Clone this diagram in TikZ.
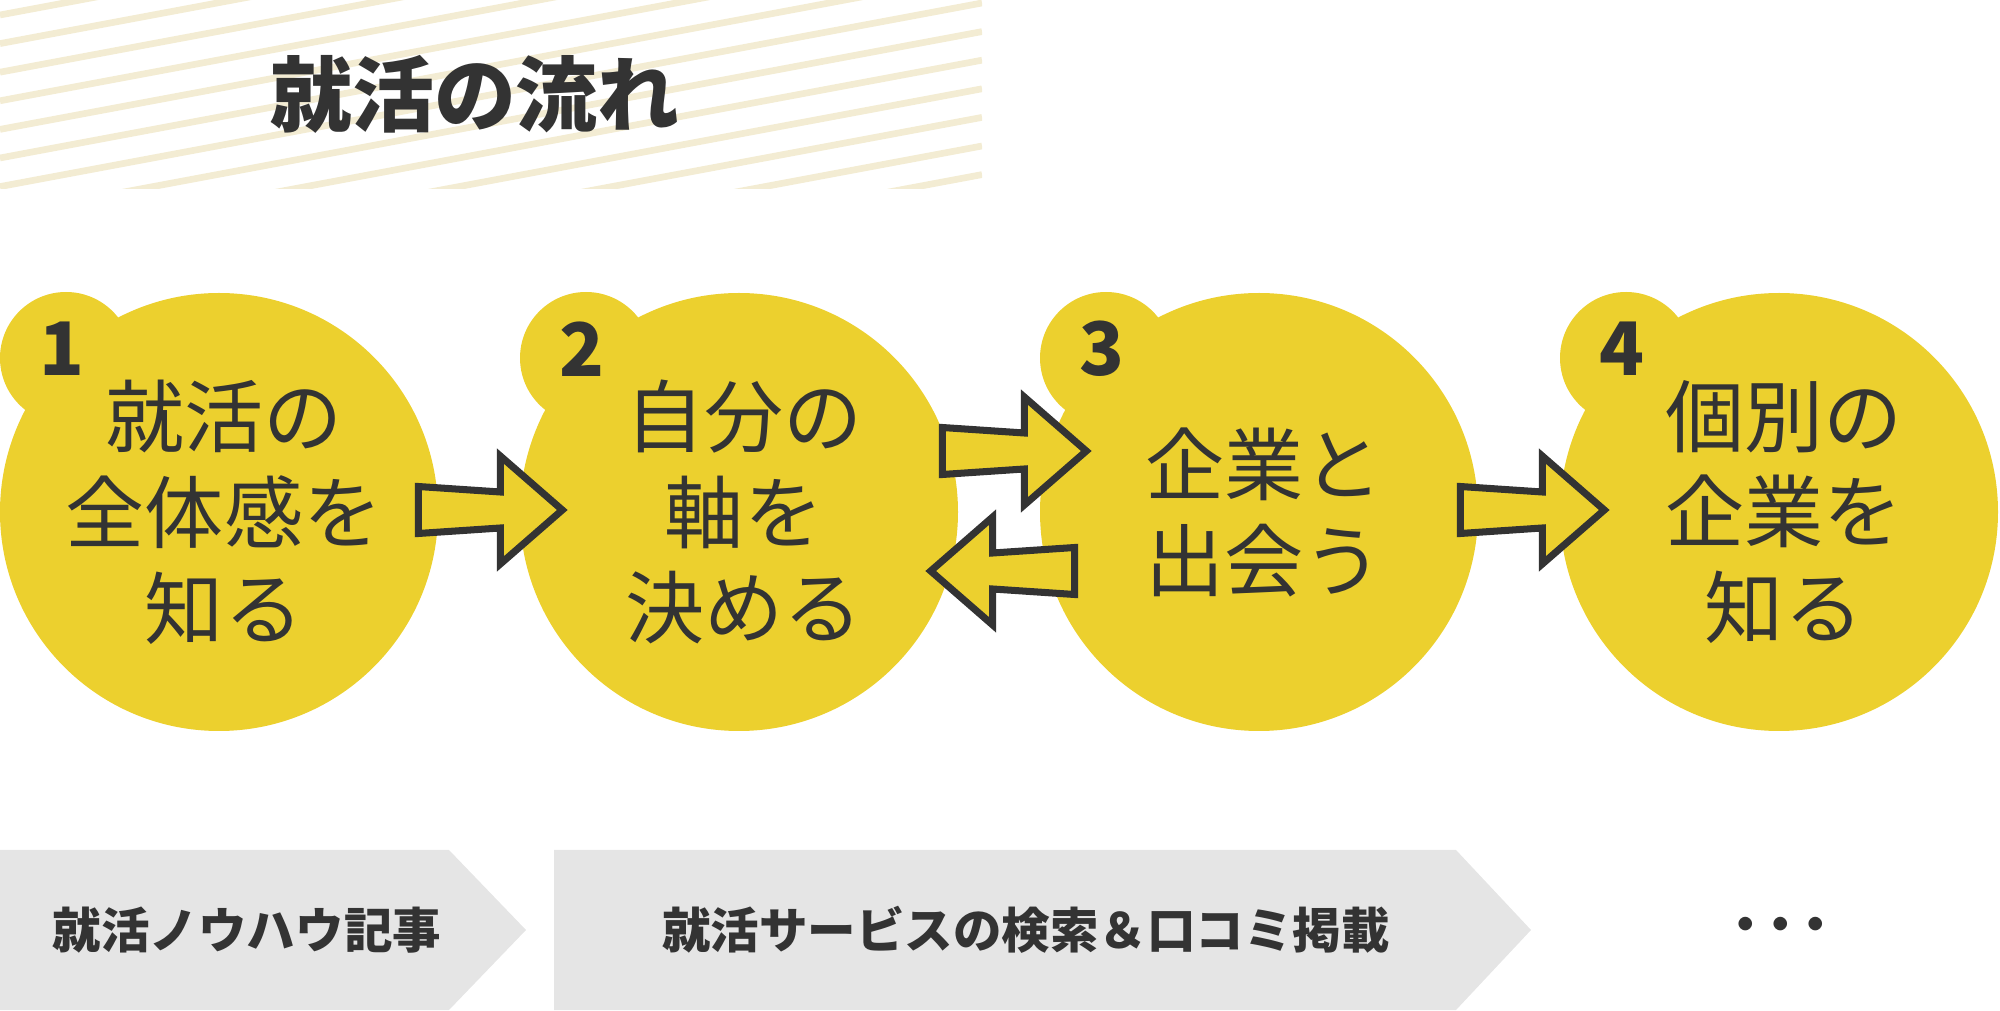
\documentclass[tikz,border=0pt]{standalone}
\usepackage{fontspec}
\newfontfamily\jpfont{Noto Sans CJK JP}
\usetikzlibrary{positioning,calc}
\definecolor{ink}{HTML}{333333}
\definecolor{mustard}{HTML}{ECD02E}
\definecolor{stripecol}{HTML}{F3ECD3}
\definecolor{bargray}{HTML}{E5E5E5}
\tikzset{
  stage/.style={circle, fill=mustard, minimum size=4.38cm, inner sep=0pt},
  bump/.style={circle, fill=mustard, minimum size=1.32cm, inner sep=0pt},
  num/.style={font=\jpfont\bfseries\fontsize{21}{21}\selectfont, text=ink, inner sep=0pt},
  stagetext/.style={font=\jpfont\fontsize{22.5}{27.3}\selectfont, text=ink, align=center, inner sep=0pt},
  barrow/.style={draw=ink, fill=mustard, line width=2pt, line join=miter},
  chevron/.style={fill=bargray},
  bartext/.style={font=\jpfont\bfseries\fontsize{13.8}{16}\selectfont, text=ink, inner sep=0pt},
}
% fat outlined arrow, tip at #1, pointing right (#2=1) or left (#2=-1)
\newcommand{\blockarrow}[2]{%
  \draw[barrow, shift={(#1)}, xscale=#2] (0,0) -- (-0.62,0.54) -- (-0.62,0.18) -- (-1.44,0.235)
    -- (-1.44,-0.235) -- (-0.62,-0.18) -- (-0.62,-0.54) -- cycle;}

\begin{document}
\begin{tikzpicture}
\useasboundingbox (0,0) rectangle (20,10.1);

% striped title band
\begin{scope}
  \clip (0,8.21) rectangle (9.82,10.1);
  \foreach \k in {0,...,12}
    \draw[stripecol, line width=1.9pt] (0,9.95-0.286*\k) -- ++(9.82,1.836);
\end{scope}
\node[font=\jpfont\bfseries\fontsize{23.3}{28}\selectfont, text=ink] (title) at (4.75,9.16) {就活の流れ};

% the four steps
\node[stage] (c1) at (2.19,4.98) {};
\node[stage, on grid, right=5.2cm of c1] (c2) {};
\node[stage, on grid, right=5.2cm of c2] (c3) {};
\node[stage, on grid, right=5.2cm of c3] (c4) {};
\foreach \i in {1,...,4} {
  \node[bump, on grid, above left=1.54cm and 1.53cm of c\i] (b\i) {};
  \node[num, on grid, above left=1.63cm and 1.57cm of c\i] (n\i) {\i};
}
\node[stagetext, xshift=0.05cm] (t1) at (c1) {就活の\\全体感を\\知る};
\node[stagetext, xshift=0.05cm] (t2) at (c2) {自分の\\軸を\\決める};
\node[stagetext, xshift=0.05cm] (t3) at (c3) {企業と\\出会う};
\node[stagetext, xshift=0.05cm] (t4) at (c4) {個別の\\企業を\\知る};

% arrows between steps
\coordinate (a12) at ($(c2.west)+(0.43,0.02)$);
\coordinate (a23) at ($(c3.west)+(0.47,0.61)$);
\coordinate (a32) at ($(c2.east)+(-0.28,-0.59)$);
\coordinate (a34) at ($(c4.west)+(0.45,0.02)$);
\blockarrow{a12}{1}
\blockarrow{a23}{1}
\blockarrow{a32}{-1}
\blockarrow{a34}{1}

% services band
\fill[chevron] (0,0) -- (0,1.6) -- (4.49,1.6) -- (5.26,0.8) -- (4.49,0) -- cycle;
\fill[chevron] (5.54,0) -- (5.54,1.6) -- (14.56,1.6) -- (15.31,0.8) -- (14.56,0) -- cycle;
\node[bartext] (s1) at (2.47,0.8) {就活ノウハウ記事};
\node[bartext] (s2) at (10.26,0.8) {就活サービスの検索＆口コミ掲載};
\node[bartext] (more) at (17.81,0.8) {・\kern-0.28em・\kern-0.28em・};
\end{tikzpicture}
\end{document}
